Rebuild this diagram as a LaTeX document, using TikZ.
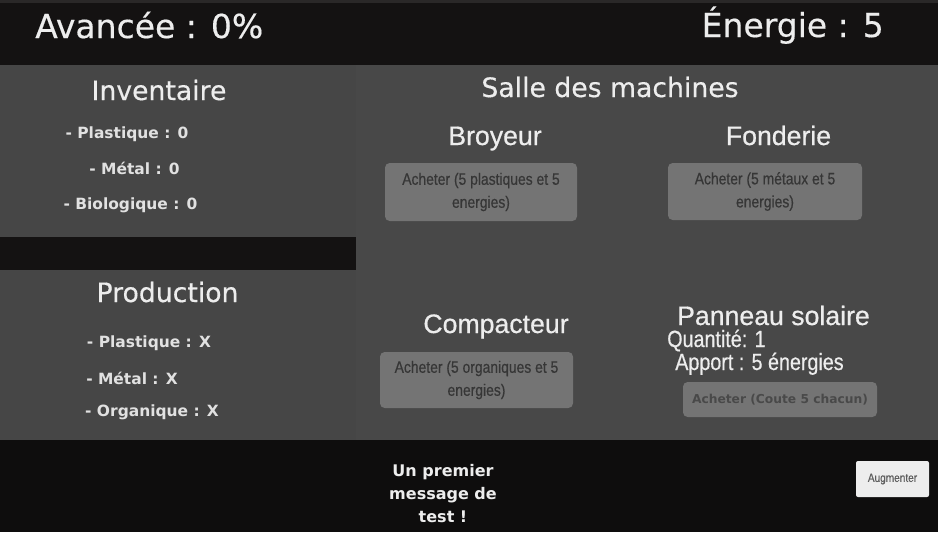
\documentclass[tikz,border=0pt]{standalone}
\usepackage{fontspec}
\setmainfont{DejaVu Sans}
\newfontfamily\uifont{DejaVu Sans}[FakeBold=0.4]
\newfontfamily\arialfont{Liberation Sans}[FakeBold=0.6]
\newfontfamily\narrowfont{Liberation Sans}[FakeStretch=0.84,FakeBold=0.5]

\definecolor{bar}{HTML}{141212}
\definecolor{barline}{HTML}{2A2828}
\definecolor{barbottom}{HTML}{0E0D0D}
\definecolor{panelleft}{HTML}{464646}
\definecolor{panelright}{HTML}{484848}
\definecolor{btngray}{HTML}{747474}
\definecolor{btntext}{HTML}{363636}
\definecolor{uiwhite}{HTML}{EDEDED}

\tikzset{
  topinfo/.style={text=uiwhite, inner sep=0pt, font=\uifont\fontsize{24.75}{30}\selectfont},
  paneltitle/.style={text=uiwhite, inner sep=0pt, anchor=base, font=\uifont\fontsize{20}{24}\selectfont},
  machinetitle/.style={text=uiwhite, inner sep=0pt, anchor=base, font=\arialfont\fontsize{20}{24}\selectfont},
  resitem/.style={text=uiwhite!95!black, inner sep=0pt, anchor=base, font=\bfseries\fontsize{11.6}{14}\selectfont},
  infoline/.style={text=uiwhite, inner sep=0pt, anchor=base west, font=\narrowfont\fontsize{17.6}{21}\selectfont},
  buybox/.style={fill=btngray, text=btntext, rounded corners=3.5pt, inner sep=0pt, align=center,
    font=\narrowfont\fontsize{12.4}{17.25}\selectfont},
}

\begin{document}
\begin{tikzpicture}[x=0.75pt,y=-0.75pt]
\useasboundingbox (0,0) rectangle (938,532);
\fill[bar] (0,0) rectangle (938,65);
\fill[barline] (0,0) rectangle (938,3);
\fill[panelleft] (0,65) rectangle (356,237);
\fill[bar] (0,237) rectangle (356,270);
\fill[panelleft] (0,270) rectangle (356,441);
\fill[panelright] (356,65) rectangle (938,440);
\fill[barbottom] (0,440) rectangle (938,532);

\node[topinfo,anchor=base west] (Avancee) at (35,38) {Avancée : 0\%};
\node[topinfo,anchor=base east] (Energie) at (884,37) {Énergie : 5};

\node[paneltitle] (Inventaire) at (159,100) {Inventaire};
\node[resitem] (InvP) at (127,138) {- Plastique : 0};
\node[resitem] (InvM) at (134.5,174) {- Métal : 0};
\node[resitem] (InvB) at (130.5,209) {- Biologique : 0};

\node[paneltitle] (Production) at (167.5,302) {Production};
\node[resitem] (ProdP) at (149,347) {- Plastique : X};
\node[resitem] (ProdM) at (132,384) {- Métal : X};
\node[resitem] (ProdO) at (152,416) {- Organique : X};

\node[paneltitle] (Salle) at (610,97) {Salle des machines};

\node[machinetitle] (Broyeur) at (495,145) {Broyeur};
\node[buybox,minimum width=144pt,minimum height=43.5pt] (BroyeurBtn) at (481,192)
  {Acheter (5 plastiques et 5\\energies)};

\node[machinetitle] (Fonderie) at (778.5,145) {Fonderie};
\node[buybox,minimum width=145.5pt,minimum height=42.75pt] (FonderieBtn) at (765,191.5)
  {Acheter (5 métaux et 5\\energies)};

\node[machinetitle] (Compacteur) at (496,333) {Compacteur};
\node[buybox,minimum width=144.75pt,minimum height=42pt] (CompacteurBtn) at (476.5,380)
  {Acheter (5 organiques et 5\\energies)};

\node[machinetitle] (Panneau) at (773.5,325) {Panneau solaire};
\node[infoline] (Quantite) at (667,347) {Quantité: 1};
\node[infoline] (Apport) at (675,370) {Apport : 5 énergies};
\node[buybox,minimum width=145.5pt,minimum height=26.25pt,text=btntext!70!btngray,
  font=\bfseries\fontsize{9.2}{11}\selectfont] (PanneauBtn) at (780,399.5)
  {Acheter (Coute 5 chacun)};

\node[text=uiwhite, inner sep=0pt, align=center, font=\bfseries\fontsize{12}{16.9}\selectfont]
  (Message) at (443,493.5) {Un premier\\message de\\test !};
\node[buybox,fill=uiwhite,text=btntext!80!white,rounded corners=1.5pt,minimum width=54.75pt,
  minimum height=27pt,font=\narrowfont\fontsize{9}{11}\selectfont] (Augmenter) at (892.5,479) {Augmenter};
\end{tikzpicture}
\end{document}
